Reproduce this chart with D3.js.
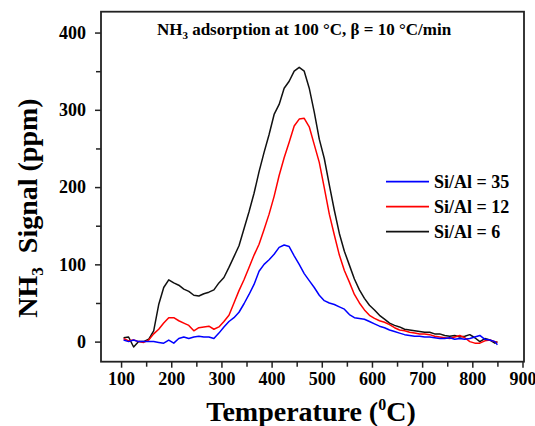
<!DOCTYPE html>
<html><head><meta charset="utf-8">
<script src="https://cdn.jsdelivr.net/npm/d3@7"></script>
<style>
html,body{margin:0;padding:0;background:#fff;}
svg{display:block;}
</style></head>
<body>
<svg id="chart" width="535" height="426"></svg>
<script>
const temps = [105,115,125,135,145,155,165,175,185,195,205,215,225,235,245,255,265,275,285,295,305,315,325,335,345,355,365,375,385,395,405,415,425,435,445,455,465,475,485,495,505,515,525,535,545,555,565,575,585,595,605,615,625,635,645,655,665,675,685,695,705,715,725,735,745,755,765,775,785,795,805,815,825,835,845,850];
const siAl35 = [2,0,2,0,0,0,0,-1,-2,2,-2,4,6,4,6,7,6,6,4,11,19,26,31,38,49,61,74,91,100,106,113,122,125,123,111,100,88,79,70,60,53,50,48,45,42,35,31,30,29,26,23,20,18,15,13,11,9,8,7,7,6,6,5,4,4,5,3,4,3,4,6,8,3,2,0,-4];
const siAl12 = [4,1,2,0,-1,2,10,16,24,31,31,27,24,21,14,18,19,20,16,19,26,34,50,66,80,96,112,126,145,165,188,215,238,258,279,288,289,278,255,232,199,165,138,112,92,77,61,50,41,34,30,27,25,22,18,15,14,12,11,10,10,9,7,6,5,4,6,8,5,0,-2,-2,1,2,0,-1];
const siAl6 = [5,6,-7,0,0,3,14,48,70,80,76,73,68,65,60,59,62,64,67,76,83,96,110,124,146,168,192,220,245,268,294,307,328,337,350,355,350,328,297,262,237,203,170,140,117,99,81,67,56,47,41,34,29,24,21,19,16,15,14,13,12,12,10,10,8,7,8,6,7,9,5,0,4,2,-2,0];
const seriesNames = ["Si/Al = 35","Si/Al = 12","Si/Al = 6"];
const seriesColors = ["#0000ff","#ff0000","#111111"];
const xTicks = [100,200,300,400,500,600,700,800,900];
const xMinor = [150,250,350,450,550,650,750,850];
const yTicks = [0,100,200,300,400];
const yMinor = [50,150,250,350];
const titleText = "adsorption at 100 °C, β = 10 °C/min";

const FONT = "'Liberation Serif', 'Times New Roman', 'DejaVu Serif', serif";
const svg = d3.select("#chart");
const L = 101, R = 524, T = 11.7, B = 361.7;
const x = d3.scaleLinear().domain([60, 903]).range([L, R]);
const y = d3.scaleLinear().domain([-26, 427]).range([B, T]);

const seriesData = [siAl35, siAl12, siAl6];

function styleText(sel, size){
  sel.style("font-family", FONT).style("font-weight","bold").style("font-size", size).style("fill","#000");
}

// axes
const xAxis = d3.axisBottom(x).tickValues(xTicks).tickSize(6).tickSizeOuter(0).tickPadding(5);
const gx = svg.append("g").attr("transform", `translate(0,${B})`).call(xAxis);
gx.select(".domain").remove();
styleText(gx.selectAll("text"), "18px");
gx.selectAll("text").attr("dy","0.71em");
gx.selectAll("line").attr("stroke","#222").attr("stroke-width",1.5);
const gxm = svg.append("g").attr("transform", `translate(0,${B})`).call(d3.axisBottom(x).tickValues(xMinor).tickSize(5).tickFormat(""));
gxm.select(".domain").remove();
gxm.selectAll("line").attr("stroke","#222").attr("stroke-width",1.5);

const yAxis = d3.axisLeft(y).tickValues(yTicks).tickSize(6).tickSizeOuter(0).tickPadding(9);
const gy = svg.append("g").attr("transform", `translate(${L},0)`).call(yAxis);
gy.select(".domain").remove();
styleText(gy.selectAll("text"), "18px");
gy.selectAll("line").attr("stroke","#222").attr("stroke-width",1.5);
const gym = svg.append("g").attr("transform", `translate(${L},0)`).call(d3.axisLeft(y).tickValues(yMinor).tickSize(5).tickFormat(""));
gym.select(".domain").remove();
gym.selectAll("line").attr("stroke","#222").attr("stroke-width",1.5);

// clip
svg.append("clipPath").attr("id","clip").append("rect").attr("x",L).attr("y",T).attr("width",R-L).attr("height",B-T);

const line = d3.line().x((d,i)=>x(temps[i])).y(d=>y(d)).curve(d3.curveLinear);
const plot = svg.append("g").attr("clip-path","url(#clip)");
[2,1,0].forEach(k=>{
  plot.append("path").datum(seriesData[k]).attr("d",line)
    .attr("fill","none").attr("stroke",seriesColors[k]).attr("stroke-width",1.5).attr("stroke-linejoin","round");
});

// frame
svg.append("rect").attr("x",L).attr("y",T).attr("width",R-L).attr("height",B-T)
  .attr("fill","none").attr("stroke","#222").attr("stroke-width",1.8);

// title
const tt = svg.append("text").attr("x",304).attr("y",35).attr("text-anchor","middle");
styleText(tt, "17px");
tt.append("tspan").text("NH");
tt.append("tspan").attr("dy",4).style("font-size","11px").text("3");
tt.append("tspan").attr("dy",-4).text(" " + titleText);

// legend
const lg = svg.append("g");
seriesNames.forEach((n,i)=>{
  const ly = 181.7 + i*25;
  lg.append("line").attr("x1",386).attr("x2",429).attr("y1",ly).attr("y2",ly)
    .attr("stroke",seriesColors[i]).attr("stroke-width",1.8);
  const t = lg.append("text").attr("x",434).attr("y",ly+6.5).text(n);
  styleText(t, "18px");
});

// x title
const xt = svg.append("text").attr("x",311).attr("y",421).attr("text-anchor","middle");
styleText(xt, "28px");
xt.append("tspan").text("Temperature (");
xt.append("tspan").attr("dy",-11).style("font-size","16px").text("0");
xt.append("tspan").attr("dy",11).text("C)");

// y title
const yt = svg.append("text").attr("transform","translate(37,208) rotate(-90)").attr("text-anchor","middle");
styleText(yt, "28px");
yt.append("tspan").text("NH");
yt.append("tspan").attr("dy",6).style("font-size","17px").text("3");
yt.append("tspan").attr("dy",-6).text("\u00a0 Signal (ppm)");
</script>
</body></html>
